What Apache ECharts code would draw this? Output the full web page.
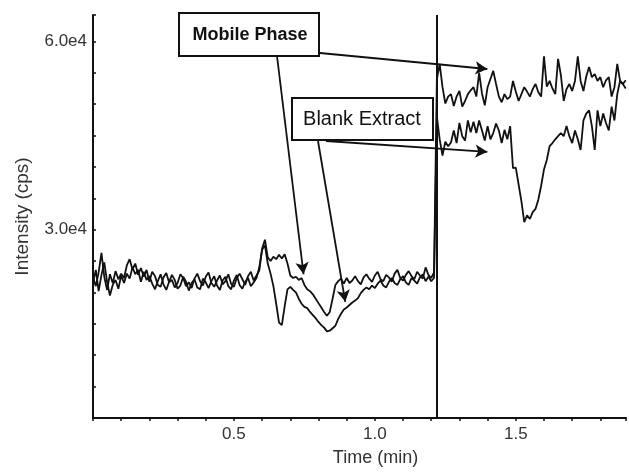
<!DOCTYPE html>
<html>
<head>
<meta charset="utf-8">
<script src="https://cdn.jsdelivr.net/npm/echarts@6/dist/echarts.min.js"></script>
<style>
html,body{margin:0;padding:0;background:#fff;}
#chart{width:629px;height:472px;}
</style>
</head>
<body>
<div id="chart"></div>
<script>
// ---- Data ----
// Sampling: left panel starts at 0.00 min, right panel at 1.22 min, step 0.01 min
const leftStart = 0.00;
const rightStart = 1.22;
const stepMin = 0.01;

const mobileLeft = [
22400,21000,23200,26300,22500,20400,22900,21500,23400,22100,
23000,22300,24300,25300,23700,24600,22800,23900,22500,23600,
21700,23300,22600,21200,20900,22400,23100,21600,22000,20800,
21500,22900,22300,21000,21600,20700,22200,23000,21800,21100,
22500,23200,21500,20900,21900,22700,21300,21800,22900,21400,
20900,22300,23000,22100,21200,22600,23300,21900,22700,23500,
27000,28400,25600,25000,25700,25300,26000,25400,26100,24600,
22700,22300,22500,22000,22300,21200,20500,20200,19700,19000,
18300,17600,16900,16300,16900,19000,21200,21800,22200,21400,
22300,21500,21900,22600,21800,21300,22400,22900,22200,21700,
22700,23300,22100,21800,22800,22400,21700,23000,23600,22300,
21900,22800,23400,22600,22100,23300,22700,22200,24000,22800,
22300,23200
];
const blankLeft = [
21500,23600,20200,22800,24800,21700,19500,21200,22000,20600,
22700,21500,23000,22200,24000,22900,23600,21700,23300,22000,
22600,21400,20500,21800,22900,21300,20400,21700,22800,22000,
20600,21100,22500,21700,20300,21500,22100,20800,20500,22200,
21600,20700,21800,22600,21100,20400,21900,22500,21000,20500,
21900,22800,21200,20600,21700,22300,21000,21600,22300,24000,
26800,27500,24600,23000,21000,18200,15200,14800,17800,20500,
20900,20400,20000,19000,18200,17700,17500,16900,16400,15900,
15300,14800,14400,13800,13900,14300,14700,15800,16600,17300,
17600,18000,18400,18700,19100,19900,20400,20800,20500,21100,
20700,21400,21900,21100,20800,21700,22300,21500,21200,22100,
22600,21600,21200,22300,21900,21400,22400,22900,21800,22500,
21800,22300
];
const mobileRight = [
54000,56400,52700,50100,51200,51600,49700,51200,52100,49600,
50500,51600,52200,52700,51200,55000,51700,49800,52700,54000,
55300,53200,51200,50300,51600,50800,51200,53700,52000,50500,
51600,52700,52000,51200,52400,53200,51900,51200,57600,52800,
53700,52500,51600,57200,54600,50500,52400,53200,52100,53700,
57600,53700,52100,54400,55900,54300,54800,53700,54300,52700,
53800,54300,51200,52700,56400,53700,53200,53800
];
const blankRight = [
48000,44400,41800,44000,43300,43900,45800,43800,47000,44900,
44200,47400,45500,47200,45400,47400,45800,44200,46500,44400,
45400,46900,45800,43800,45900,44400,46500,39800,39900,37200,
34500,31200,32300,31700,32800,33300,34800,37000,39600,41100,
43300,43800,44400,44900,45400,44900,46500,44900,43800,45800,
44400,42700,47400,48500,49000,46500,42700,49000,46500,48500,
47000,45800,49600,47400,51600,53700,53200,52500
];

const seriesNames = ['Mobile Phase', 'Blank Extract'];
const yTickLabels = {30000: '3.0e4', 60000: '6.0e4'};
const xTickLabels = ['0.5', '1.0', '1.5'];
const xTitle = 'Time (min)';
const yTitle = 'Intensity (cps)';
const panelBreak = 1.22;

// annotation anchor points on the traces (data coordinates)
const mobileArrowTips = [[0.747, 22900], [1.399, 55600]];
const blankArrowTips = [[0.895, 18500], [1.399, 42400]];

function toPairs(start, vals) {
  return vals.map((v, i) => [Number((start + i * stepMin).toFixed(2)), v]);
}
const mobileData = toPairs(leftStart, mobileLeft).concat(toPairs(rightStart, mobileRight));
const blankData = toPairs(leftStart, blankLeft).concat(toPairs(rightStart, blankRight));

const chart = echarts.init(document.getElementById('chart'), null, {renderer: 'canvas'});
const FONT = 'Liberation Sans, Arial, sans-serif';
const ink = '#111';

const arrowStyle = {color: ink, width: 1.8, type: 'solid'};

chart.setOption({
  animation: false,
  backgroundColor: '#fff',
  grid: {left: 93, right: 0, top: 15, bottom: 48, containLabel: false},
  xAxis: {
    type: 'value', min: 0, max: 1.891, interval: 0.1,
    name: xTitle, nameLocation: 'middle', nameGap: 31,
    nameTextStyle: {fontSize: 18, color: '#333', fontFamily: FONT, padding: [0, 0, 0, 32]},
    axisLine: {show: true, onZero: false, lineStyle: {color: ink, width: 2}},
    axisTick: {show: true, inside: false, length: 3, lineStyle: {color: ink, width: 1.5}},
    axisLabel: {
      fontSize: 17, color: '#333', fontFamily: FONT, margin: 8,
      formatter: function (v) {
        const s = (Math.round(v * 10) / 10).toFixed(1);
        return xTickLabels.indexOf(s) >= 0 ? s : '';
      }
    },
    splitLine: {show: false}
  },
  yAxis: {
    type: 'value', min: 0, max: 64200, interval: 5000,
    name: yTitle, nameLocation: 'middle', nameGap: 61, nameRotate: 90,
    nameTextStyle: {fontSize: 19, color: '#333', fontFamily: FONT},
    axisLine: {show: true, lineStyle: {color: ink, width: 2}},
    axisTick: {show: true, inside: true, length: 3, lineStyle: {color: ink, width: 1.5}},
    axisLabel: {
      fontSize: 17, color: '#333', fontFamily: FONT, margin: 6,
      formatter: function (v) { return yTickLabels[Math.round(v)] || ''; }
    },
    splitLine: {show: false}
  },
  series: [
    {
      name: seriesNames[0], type: 'line', data: mobileData,
      showSymbol: false, symbol: 'none', smooth: false,
      lineStyle: {color: ink, width: 1.8}, z: 3,
      markLine: {
        silent: true, animation: false,
        symbol: ['none', 'arrow'], symbolSize: [10, 12],
        label: {show: false},
        lineStyle: arrowStyle,
        data: [
          [{x: 277, y: 56}, {coord: mobileArrowTips[0]}],
          [{x: 320, y: 53}, {coord: mobileArrowTips[1]}],
          [{x: 318, y: 141}, {coord: blankArrowTips[0]}],
          [{x: 326, y: 141}, {coord: blankArrowTips[1]}]
        ]
      }
    },
    {
      name: seriesNames[1], type: 'line', data: blankData,
      showSymbol: false, symbol: 'none', smooth: false,
      lineStyle: {color: ink, width: 1.8}, z: 3,
      markLine: {
        silent: true, animation: false,
        symbol: ['none', 'none'],
        label: {show: false},
        lineStyle: {color: ink, width: 2, type: 'solid'},
        data: [{xAxis: panelBreak}]
      }
    }
  ],
  graphic: [
    {type: 'rect', z: 10, shape: {x: 179, y: 13, width: 140, height: 43},
     style: {fill: '#fff', stroke: ink, lineWidth: 2}},
    {type: 'text', z: 11, x: 250, y: 35,
     style: {text: seriesNames[0], fill: '#111', font: 'bold 18px ' + FONT,
             textAlign: 'center', textVerticalAlign: 'middle'}},
    {type: 'rect', z: 10, shape: {x: 292, y: 98, width: 141, height: 42},
     style: {fill: '#fff', stroke: ink, lineWidth: 2}},
    {type: 'text', z: 11, x: 362, y: 119,
     style: {text: seriesNames[1], fill: '#111', font: '20px ' + FONT,
             textAlign: 'center', textVerticalAlign: 'middle'}}
  ]
});
</script>
</body>
</html>
